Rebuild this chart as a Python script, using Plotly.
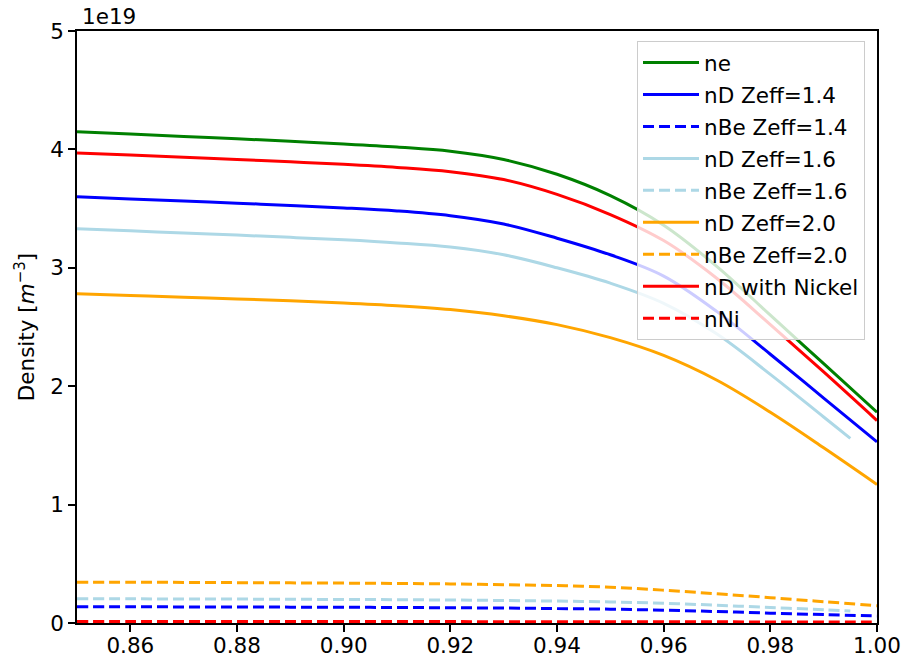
import plotly.graph_objects as go

# rho (normalised radius)
x = [0.85, 0.86, 0.87, 0.88, 0.89, 0.90, 0.91, 0.92,
     0.93, 0.94, 0.95, 0.96, 0.97, 0.98, 0.99, 1.00]
# Zeff=1.6 profiles stop slightly before the edge
x16 = [0.85, 0.86, 0.87, 0.88, 0.89, 0.90, 0.91, 0.92,
       0.93, 0.94, 0.95, 0.96, 0.97, 0.98, 0.99, 0.995]

# densities in units of 1e19 m^-3
ne = [4.15, 4.13, 4.11, 4.09, 4.068, 4.046, 4.02, 3.985,
      3.915, 3.79, 3.61, 3.36, 3.01, 2.60, 2.19, 1.78]
nD_14 = [3.60, 3.582, 3.564, 3.546, 3.527, 3.506, 3.48, 3.44,
         3.37, 3.25, 3.11, 2.93, 2.63, 2.27, 1.90, 1.53]
nBe_14 = [0.138, 0.137, 0.136, 0.135, 0.134, 0.133, 0.131, 0.129,
          0.126, 0.122, 0.117, 0.108, 0.097, 0.083, 0.071, 0.059]
nD_16 = [3.33, 3.312, 3.294, 3.276, 3.257, 3.236, 3.21, 3.175,
         3.11, 3.00, 2.87, 2.70, 2.44, 2.10, 1.74, 1.56]
nBe_16 = [0.205, 0.204, 0.203, 0.202, 0.200, 0.199, 0.197, 0.194,
          0.190, 0.185, 0.178, 0.167, 0.150, 0.131, 0.112, 0.101]
nD_20 = [2.78, 2.766, 2.752, 2.737, 2.721, 2.703, 2.68, 2.647,
         2.595, 2.52, 2.41, 2.26, 2.05, 1.78, 1.48, 1.17]
nBe_20 = [0.345, 0.344, 0.343, 0.341, 0.339, 0.337, 0.334, 0.330,
          0.324, 0.316, 0.302, 0.277, 0.247, 0.214, 0.180, 0.146]
nD_Ni = [3.97, 3.952, 3.934, 3.915, 3.895, 3.874, 3.848, 3.812,
         3.745, 3.62, 3.45, 3.23, 2.91, 2.52, 2.12, 1.71]
nNi = [0.012, 0.012, 0.012, 0.012, 0.012, 0.012, 0.012, 0.012,
       0.011, 0.011, 0.011, 0.010, 0.010, 0.009, 0.009, 0.008]

series = [
    ("ne", x, ne, "green", "solid"),
    ("nD Zeff=1.4", x, nD_14, "blue", "solid"),
    ("nBe Zeff=1.4", x, nBe_14, "blue", "11px,5px"),
    ("nD Zeff=1.6", x16, nD_16, "lightblue", "solid"),
    ("nBe Zeff=1.6", x16, nBe_16, "lightblue", "11px,5px"),
    ("nD Zeff=2.0", x, nD_20, "orange", "solid"),
    ("nBe Zeff=2.0", x, nBe_20, "orange", "11px,5px"),
    ("nD with Nickel", x, nD_Ni, "red", "solid"),
    ("nNi", x, nNi, "red", "11px,5px"),
]

FONT = "DejaVu Sans"
FS = 21.5
fig = go.Figure()
for i, (name, xx, y, color, dash) in enumerate(series):
    fig.add_trace(go.Scatter(
        x=xx, y=y, name=name, mode="lines", legendgroup=f"g{i}",
        line=dict(color=color, width=3, dash=dash, shape="spline", smoothing=1.0),
    ))

fig.update_layout(
    width=922, height=661,
    margin=dict(l=77, r=45, t=31, b=38),
    plot_bgcolor="white", paper_bgcolor="white",
    font=dict(family=FONT, size=FS, color="black"),
    showlegend=True,
    legend=dict(
        x=0.985, y=0.983, xanchor="right", yanchor="top",
        bgcolor="rgba(255,255,255,0.8)", bordercolor="#cccccc", borderwidth=1,
        font=dict(family=FONT, size=FS), itemwidth=56,
        tracegroupgap=1, entrywidth=240, entrywidthmode="pixels",
    ),
    xaxis=dict(
        range=[0.85, 1.0], tickvals=[0.86, 0.88, 0.90, 0.92, 0.94, 0.96, 0.98, 1.00],
        tickformat=".2f", showgrid=False, zeroline=False, automargin=False,
        showline=True, mirror=True, linecolor="black", linewidth=1.5,
        ticks="outside", ticklen=7, tickwidth=1.5, tickcolor="black",
        tickfont=dict(family=FONT, size=FS), ticklabelstandoff=-5,
    ),
    yaxis=dict(
        range=[0, 5], tickvals=[0, 1, 2, 3, 4, 5], automargin=False,
        showgrid=False, zeroline=False,
        showline=True, mirror=True, linecolor="black", linewidth=1.5,
        ticks="outside", ticklen=7, tickwidth=1.5, tickcolor="black",
        tickfont=dict(family=FONT, size=FS),
        title=dict(text="Density [<i>m</i><sup>−3</sup>]", font=dict(family=FONT, size=FS), standoff=10),
    ),
    annotations=[dict(
        text="1e19", xref="paper", yref="paper", x=0.0, y=1.0,
        xanchor="left", yanchor="bottom", showarrow=False, yshift=0, xshift=3,
        font=dict(family=FONT, size=FS),
    )],
)

fig.write_html("out.html")
